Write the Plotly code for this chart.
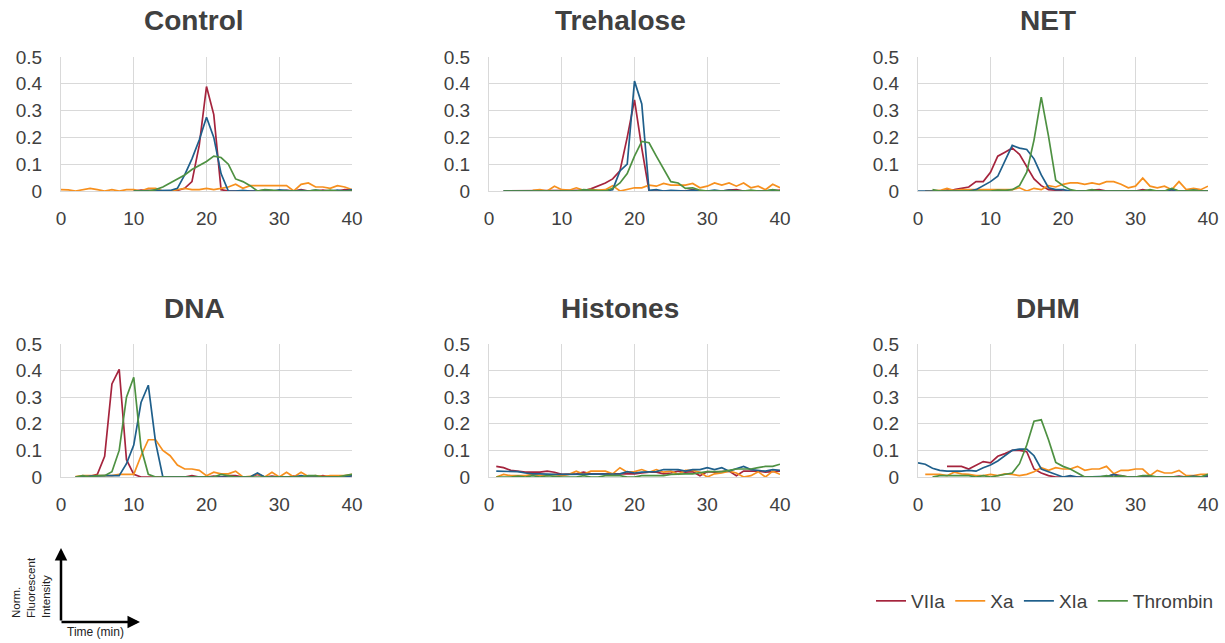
import plotly.graph_objects as go

N = None
minutes = list(range(0, 41))

panel_titles = ["Control", "Trehalose", "NET", "DNA", "Histones", "DHM"]
series_names = ["VIIa", "Xa", "XIa", "Thrombin"]
series_colors = ["#A5243D", "#F7901E", "#1F5F8B", "#4E9142"]

# ---- Control ----
control_VIIa = [N]*10 + [0, 0.003, 0.002, 0, 0, 0, 0.002, 0.01, 0.035, 0.17, 0.39, 0.285, 0.005, 0, 0, 0, 0, 0, 0.003, 0, 0, 0.002, 0, 0.005, 0, 0, 0.003, 0, 0, 0.005, 0.003]
control_Xa = [0.005, 0.004, 0, 0.005, 0.01, 0.005, 0, 0.005, 0, 0.005, 0.005, 0, 0.01, 0.01, 0, 0, 0.005, 0.01, 0.005, 0.005, 0.01, 0.005, 0.01, 0.015, 0.025, 0.01, 0.02, 0.02, 0.02, 0.02, 0.02, 0.02, 0, 0.025, 0.03, 0.015, 0.015, 0.01, 0.02, 0.015, 0.005]
control_XIa = [N]*10 + [0, 0, 0, 0, 0, 0.002, 0.01, 0.06, 0.12, 0.19, 0.275, 0.2, 0.065, 0, 0, 0.002, 0, 0, 0, 0, 0.004, 0.002, 0, 0.002, 0, 0.003, 0, 0, 0.003, 0, 0.005]
control_Thr = [N]*10 + [0, 0, 0, 0.005, 0.015, 0.03, 0.045, 0.06, 0.08, 0.095, 0.11, 0.13, 0.125, 0.1, 0.045, 0.035, 0.02, 0, 0.005, 0.003, 0, 0, 0, 0, 0, 0.003, 0, 0.003, 0, 0, 0]

# ---- Trehalose ----
treh_VIIa = [N]*2 + [0]*11 + [0.002, 0.008, 0.018, 0.03, 0.045, 0.075, 0.2, 0.34, 0.16, 0, 0, 0, 0, 0, 0, 0.005, 0, 0, 0, 0, 0.003, 0.005, 0, 0, 0, 0, 0, 0.003]
treh_Xa = [N]*6 + [0.002, 0.005, 0, 0.018, 0.005, 0.003, 0.012, 0.003, 0.005, 0.003, 0.005, 0.02, 0, 0.005, 0.012, 0.012, 0.022, 0.018, 0.028, 0.022, 0.022, 0.022, 0.028, 0.012, 0.018, 0.03, 0.022, 0.03, 0.018, 0.03, 0.012, 0.018, 0.005, 0.025, 0.012]
treh_XIa = [N]*2 + [0]*15 + [0.005, 0.075, 0.1, 0.41, 0.325, 0.002, 0.005, 0, 0.002, 0, 0, 0.003, 0, 0, 0.003, 0, 0.003, 0, 0, 0, 0, 0, 0.004, 0]
treh_Thr = [N]*2 + [0, 0, 0, 0, 0, 0, 0, 0, 0, 0, 0, 0.005, 0.003, 0, 0, 0.01, 0.03, 0.065, 0.13, 0.185, 0.18, 0.13, 0.08, 0.035, 0.03, 0.01, 0.012, 0.003, 0, 0, 0, 0, 0, 0, 0.003, 0, 0, 0.005, 0]

# ---- NET ----
net_VIIa = [N] + [0, 0, 0, 0.003, 0.005, 0.01, 0.015, 0.035, 0.035, 0.07, 0.13, 0.145, 0.16, 0.137, 0.09, 0.045, 0.02, 0.005, 0.003, 0, 0, 0, 0, 0.003, 0.005, 0, 0, 0, 0, 0, 0.005, 0, 0, 0, 0.003, 0, 0, 0, 0.002, 0]
net_Xa = [N] + [0, 0, 0.002, 0.01, 0.002, 0.005, 0.005, 0.005, 0.005, 0.005, 0.005, 0.005, 0.005, 0.012, 0, 0.01, 0.005, 0.02, 0.015, 0.025, 0.03, 0.03, 0.025, 0.03, 0.025, 0.035, 0.035, 0.025, 0.012, 0.018, 0.048, 0.018, 0.012, 0.018, 0.005, 0.035, 0.005, 0.01, 0.005, 0.018]
net_XIa = [0, 0, 0, 0, 0, 0, 0, 0, 0.005, 0.02, 0.035, 0.055, 0.11, 0.17, 0.16, 0.155, 0.12, 0.06, 0.012, 0.005, 0.005, 0, 0, 0, 0, 0, 0, 0.002, 0, 0, 0.002, 0, 0, 0, 0, 0.005, 0, 0, 0.003, 0, 0]
net_Thr = [N]*2 + [0.005, 0, 0, 0, 0, 0, 0, 0, 0, 0.003, 0.002, 0.005, 0.02, 0.07, 0.19, 0.35, 0.205, 0.04, 0.02, 0.005, 0, 0, 0.005, 0, 0, 0, 0, 0, 0, 0, 0.005, 0, 0, 0.01, 0, 0, 0.003, 0, 0]

# ---- DNA ----
dna_VIIa = [N]*2 + [0, 0.002, 0.003, 0.01, 0.078, 0.35, 0.405, 0.065, 0.01, 0, 0, 0, 0, 0, 0, 0, 0.005, 0, 0, 0.003, 0, 0.005, 0.005, 0, 0, 0.01, 0, 0.003, 0, 0, 0.003, 0, 0, 0, 0.005, 0, 0, 0, 0.005]
dna_Xa = [N]*2 + [0.002, 0.005, 0.005, 0.005, 0.005, 0.005, 0.01, 0.01, 0.01, 0.08, 0.14, 0.14, 0.1, 0.08, 0.045, 0.03, 0.03, 0.025, 0.005, 0.018, 0.012, 0.012, 0.022, 0, 0.002, 0.012, 0, 0.018, 0, 0.018, 0, 0.018, 0.002, 0.005, 0.002, 0.005, 0.005, 0.005, 0.01]
dna_XIa = [N]*2 + [0, 0, 0.003, 0.005, 0.005, 0.005, 0.005, 0.05, 0.12, 0.28, 0.345, 0.13, 0, 0, 0, 0, 0, 0, 0, 0, 0, 0, 0, 0, 0, 0.015, 0, 0, 0, 0, 0, 0.005, 0, 0, 0, 0, 0, 0, 0.005]
dna_Thr = [N]*2 + [0, 0.005, 0, 0.005, 0.005, 0.02, 0.1, 0.3, 0.375, 0.11, 0.01, 0, 0, 0, 0, 0, 0, 0, 0, 0, 0.01, 0.005, 0, 0, 0, 0, 0, 0, 0, 0, 0, 0, 0.005, 0.005, 0, 0, 0, 0.005, 0.01]

# ---- Histones ----
hist_VIIa = [N] + [0.04, 0.035, 0.025, 0.022, 0.018, 0.018, 0.018, 0.022, 0.018, 0.01, 0.01, 0.012, 0.018, 0.012, 0.012, 0.012, 0.012, 0.012, 0.01, 0.012, 0.015, 0.018, 0.018, 0.012, 0.015, 0.022, 0.018, 0.02, 0.005, 0.02, 0.018, 0.02, 0.022, 0.005, 0.022, 0.022, 0.022, 0.018, 0.02, 0.022]
hist_Xa = [N] + [0, 0.01, 0.005, 0.005, 0.005, 0.01, 0.005, 0.005, 0.01, 0.005, 0.01, 0.022, 0.01, 0.022, 0.022, 0.022, 0.012, 0.035, 0.018, 0.02, 0.028, 0.018, 0.028, 0.018, 0.022, 0.01, 0.025, 0.025, 0.018, 0, 0.012, 0.015, 0.022, 0.015, 0, 0.005, 0.02, 0, 0.022, 0.01]
hist_XIa = [N] + [0.022, 0.022, 0.022, 0.02, 0.015, 0.012, 0.012, 0.01, 0.01, 0.01, 0.01, 0.01, 0.012, 0.012, 0.012, 0.012, 0.012, 0.012, 0.02, 0.015, 0.018, 0.02, 0.02, 0.028, 0.028, 0.028, 0.022, 0.028, 0.028, 0.035, 0.028, 0.035, 0.022, 0.03, 0.04, 0.028, 0.025, 0.022, 0.028, 0.025]
hist_Thr = [N] + [0, 0, 0, 0.003, 0, 0.005, 0, 0.005, 0.002, 0, 0, 0, 0.005, 0, 0, 0.005, 0.005, 0.005, 0, 0, 0.005, 0.005, 0.005, 0.005, 0.01, 0.012, 0.012, 0.012, 0.015, 0.02, 0.02, 0.02, 0.025, 0.03, 0.03, 0.03, 0.035, 0.04, 0.04, 0.048]

# ---- DHM ----
dhm_VIIa = [N]*4 + [0.04, 0.04, 0.04, 0.03, 0.045, 0.058, 0.053, 0.078, 0.088, 0.1, 0.1, 0.095, 0.03, 0.015, 0.005, 0, 0, 0, 0, 0, 0, 0, 0, 0.01, 0.005, 0, 0, 0.003, 0, 0, 0, 0, 0.003, 0, 0, 0, 0.003]
dhm_Xa = [N] + [0.01, 0.01, 0.01, 0.005, 0.018, 0.012, 0.01, 0.005, 0.005, 0.01, 0.005, 0.012, 0.01, 0.005, 0.01, 0.02, 0.035, 0.025, 0.035, 0.03, 0.03, 0.04, 0.025, 0.03, 0.03, 0.04, 0.012, 0.025, 0.025, 0.03, 0.03, 0.005, 0.025, 0.015, 0.015, 0.025, 0.005, 0.005, 0.01, 0.01]
dhm_XIa = [0.053, 0.048, 0.033, 0.025, 0.022, 0.022, 0.022, 0.025, 0.022, 0.035, 0.045, 0.06, 0.08, 0.1, 0.105, 0.105, 0.08, 0.03, 0.02, 0.01, 0, 0.005, 0, 0, 0, 0, 0.002, 0.01, 0, 0, 0, 0, 0, 0, 0, 0, 0, 0, 0.003, 0, 0.005]
dhm_Thr = [N]*2 + [0, 0.005, 0.005, 0.005, 0.005, 0.005, 0, 0.005, 0, 0.005, 0.01, 0.015, 0.05, 0.12, 0.21, 0.215, 0.14, 0.055, 0.04, 0.03, 0.015, 0, 0, 0, 0.005, 0, 0.005, 0, 0, 0.005, 0.005, 0, 0, 0, 0, 0, 0, 0, 0.01]

panels = [
    [control_VIIa, control_Xa, control_XIa, control_Thr],
    [treh_VIIa, treh_Xa, treh_XIa, treh_Thr],
    [net_VIIa, net_Xa, net_XIa, net_Thr],
    [dna_VIIa, dna_Xa, dna_XIa, dna_Thr],
    [hist_VIIa, hist_Xa, hist_XIa, hist_Thr],
    [dhm_VIIa, dhm_Xa, dhm_XIa, dhm_Thr],
]

W, H = 1225, 643


def px(x):
    return x / W


def py(y):
    return 1 - y / H


col_px = [(61, 352), (489, 780), (918, 1208)]
row_px = [(57, 191), (344, 477)]
title_cx = [194, 620, 1048]
title_cy = [21, 308]

TXT = "#404040"
GRID = "#D9D9D9"
FONT = "Liberation Sans, Arial, sans-serif"

fig = go.Figure()
layout = dict(
    width=W, height=H, margin=dict(l=0, r=0, t=0, b=0, autoexpand=False),
    paper_bgcolor="white", plot_bgcolor="white",
    font=dict(family=FONT, color=TXT),
    showlegend=True,
)
annotations = []

for p, data in enumerate(panels):
    r, c = divmod(p, 3)
    idx = p + 1
    xa = "xaxis" if idx == 1 else f"xaxis{idx}"
    ya = "yaxis" if idx == 1 else f"yaxis{idx}"
    xref = "x" if idx == 1 else f"x{idx}"
    yref = "y" if idx == 1 else f"y{idx}"
    for s in range(4):
        fig.add_trace(go.Scatter(
            x=minutes, y=data[s], mode="lines", name=series_names[s],
            line=dict(color=series_colors[s], width=1.7),
            xaxis=xref, yaxis=yref, showlegend=(p == 0),
            connectgaps=False,
        ))
    x0, x1 = col_px[c]
    y0, y1 = row_px[r]
    layout[xa] = dict(
        domain=[px(x0), px(x1)], anchor=yref, range=[0, 40],
        tickvals=[0, 10, 20, 30, 40], showgrid=True, gridcolor=GRID, gridwidth=1,
        showline=True, linecolor=GRID, linewidth=1, zeroline=False,
        ticks="", tickfont=dict(size=19, color=TXT), ticklabelstandoff=10,
        fixedrange=True, automargin=False,
    )
    layout[ya] = dict(
        domain=[py(y1), py(y0)], anchor=xref, range=[0, 0.5],
        tickvals=[0, 0.1, 0.2, 0.3, 0.4, 0.5],
        ticktext=["0", "0.1", "0.2", "0.3", "0.4", "0.5"],
        showgrid=True, gridcolor=GRID, gridwidth=1,
        showline=True, linecolor=GRID, linewidth=1, zeroline=False,
        ticks="", tickfont=dict(size=19, color=TXT), ticklabelstandoff=14,
        fixedrange=True, automargin=False,
    )
    annotations.append(dict(
        text=f"<b>{panel_titles[p]}</b>", xref="paper", yref="paper",
        x=px(title_cx[c]), y=py(title_cy[r]), xanchor="center", yanchor="middle",
        showarrow=False, borderpad=0, font=dict(size=28, color=TXT, family=FONT),
    ))

# axis key in bottom-left
annotations.append(dict(text="", xref="paper", yref="paper", x=px(61), y=py(548),
                        ax=0, ay=74, axref="pixel", ayref="pixel", showarrow=True,
                        arrowhead=2, arrowsize=1, arrowwidth=2.5, arrowcolor="black"))
annotations.append(dict(text="", xref="paper", yref="paper", x=px(140), y=py(622),
                        ax=-80, ay=0, axref="pixel", ayref="pixel", showarrow=True,
                        arrowhead=2, arrowsize=1, arrowwidth=2.5, arrowcolor="black"))
annotations.append(dict(text="Norm.<br>Fluorescent<br>Intensity", xref="paper", yref="paper",
                        x=px(31), y=py(588), xanchor="center", yanchor="middle",
                        textangle=-90, align="left", showarrow=False,
                        font=dict(size=11.5, color="#222222", family=FONT)))
annotations.append(dict(text="Time (min)", xref="paper", yref="paper",
                        x=px(95), y=py(632), xanchor="center", yanchor="middle",
                        showarrow=False, font=dict(size=12, color="#222222", family=FONT)))

layout["annotations"] = annotations
layout["legend"] = dict(
    orientation="h", x=px(871), y=py(601), xanchor="left", yanchor="middle",
    font=dict(size=19, color=TXT, family=FONT), bgcolor="rgba(0,0,0,0)",
    itemclick=False, itemdoubleclick=False,
)
fig.update_layout(**layout)
# remove the browser's default 8px body margin so the figure fills the page
fig.write_html(
    "out.html",
    config={"displayModeBar": False},
    post_script="document.body.style.margin='0';document.body.style.overflow='hidden';",
)
